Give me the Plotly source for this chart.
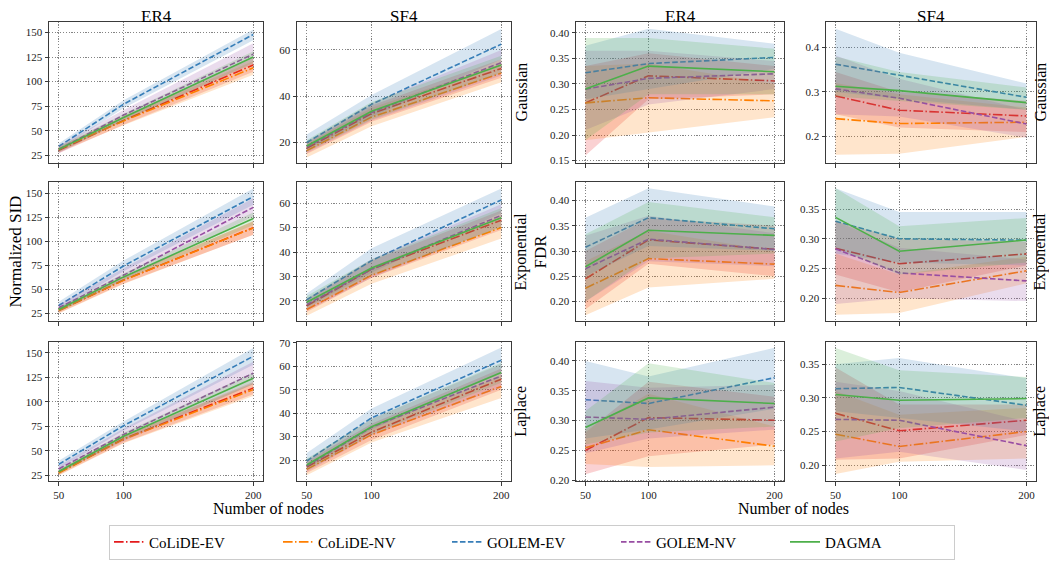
import plotly.graph_objects as go

# ---------------- data ----------------
X_NODES = [50, 100, 200]
METHODS = ["CoLiDE-EV", "CoLiDE-NV", "GOLEM-EV", "GOLEM-NV", "DAGMA"]
COL_TITLES = ["ER4", "SF4", "ER4", "SF4"]
ROW_LABELS = ["Gaussian", "Exponential", "Laplace"]

# method -> (mean, lower, upper)
SID_ER4_GAUSSIAN = {
    "CoLiDE-EV": ([30, 60.5, 117], [27, 56, 110], [33, 65, 124]),
    "CoLiDE-NV": ([31, 60, 114], [28, 55.5, 107], [34, 64.5, 121]),
    "GOLEM-EV": ([34, 77, 148], [31, 73, 142], [37, 81, 153]),
    "GOLEM-NV": ([31, 66, 128], [27, 61, 118], [35, 71, 139]),
    "DAGMA": ([31, 63.5, 125], [28, 60, 119], [34, 67, 131]),
}
SID_SF4_GAUSSIAN = {
    "CoLiDE-EV": ([17.5, 32.5, 52], [15, 29, 48], [20, 36, 56]),
    "CoLiDE-NV": ([16.5, 31, 50], [13.5, 27, 46], [19.5, 35, 54]),
    "GOLEM-EV": ([20, 36.5, 62.5], [17, 31, 56], [23.5, 40.5, 69]),
    "GOLEM-NV": ([18, 33, 54.5], [15.5, 29.5, 49], [20.5, 37, 60]),
    "DAGMA": ([18.5, 33.5, 53.5], [16, 30, 50], [21, 37.5, 57.5]),
}
FDR_ER4_GAUSSIAN = {
    "CoLiDE-EV": ([0.263, 0.316, 0.306], [0.16, 0.27, 0.28], [0.335, 0.36, 0.335]),
    "CoLiDE-NV": ([0.263, 0.273, 0.267], [0.19, 0.205, 0.235], [0.335, 0.34, 0.30]),
    "GOLEM-EV": ([0.322, 0.340, 0.352], [0.27, 0.29, 0.33], [0.375, 0.408, 0.379]),
    "GOLEM-NV": ([0.29, 0.311, 0.32], [0.21, 0.26, 0.29], [0.365, 0.365, 0.345]),
    "DAGMA": ([0.29, 0.335, 0.324], [0.19, 0.28, 0.28], [0.39, 0.39, 0.369]),
}
FDR_SF4_GAUSSIAN = {
    "CoLiDE-EV": ([0.291, 0.259, 0.246], [0.25, 0.22, 0.21], [0.345, 0.30, 0.28]),
    "CoLiDE-NV": ([0.24, 0.229, 0.232], [0.159, 0.161, 0.199], [0.32, 0.295, 0.265]),
    "GOLEM-EV": ([0.3625, 0.3375, 0.288], [0.30, 0.285, 0.26], [0.442, 0.388, 0.319]),
    "GOLEM-NV": ([0.307, 0.286, 0.228], [0.25, 0.245, 0.197], [0.382, 0.33, 0.26]),
    "DAGMA": ([0.313, 0.303, 0.276], [0.29, 0.28, 0.26], [0.38, 0.345, 0.31]),
}
SID_ER4_EXPONENTIAL = {
    "CoLiDE-EV": ([28, 59.7, 114.2], [25.5, 56, 107], [30.5, 63.5, 121]),
    "CoLiDE-NV": ([28, 59.5, 114], [25, 55.5, 107], [31, 63.5, 121]),
    "GOLEM-EV": ([33.2, 74.4, 146.6], [29, 69, 138], [37, 80, 155]),
    "GOLEM-NV": ([30.8, 64.8, 135.4], [27, 60, 126], [34, 72, 145]),
    "DAGMA": ([29, 63, 123.8], [26.5, 59.5, 117], [31.5, 66.5, 130]),
}
SID_SF4_EXPONENTIAL = {
    "CoLiDE-EV": ([18, 33, 53], [15.5, 29.5, 49], [20.5, 36.5, 57]),
    "CoLiDE-NV": ([16.5, 30.5, 50], [14, 27, 45.5], [19, 34, 54.5]),
    "GOLEM-EV": ([20.5, 36.5, 61.3], [17.5, 31.5, 56], [23, 41.5, 66]),
    "GOLEM-NV": ([18.5, 33, 55], [16, 29.5, 50.5], [21, 37, 59.5]),
    "DAGMA": ([19.5, 33.5, 54], [17, 30.5, 50], [22, 37, 58]),
}
FDR_ER4_EXPONENTIAL = {
    "CoLiDE-EV": ([0.245, 0.322, 0.3035], [0.185, 0.275, 0.25], [0.30, 0.365, 0.35]),
    "CoLiDE-NV": ([0.2265, 0.285, 0.274], [0.173, 0.228, 0.245], [0.28, 0.34, 0.30]),
    "GOLEM-EV": ([0.3075, 0.366, 0.344], [0.25, 0.31, 0.30], [0.366, 0.424, 0.388]),
    "GOLEM-NV": ([0.265, 0.3235, 0.303], [0.20, 0.28, 0.27], [0.33, 0.37, 0.335]),
    "DAGMA": ([0.269, 0.341, 0.331], [0.20, 0.285, 0.295], [0.333, 0.397, 0.367]),
}
FDR_SF4_EXPONENTIAL = {
    "CoLiDE-EV": ([0.284, 0.258, 0.2745], [0.24, 0.21, 0.255], [0.33, 0.30, 0.295]),
    "CoLiDE-NV": ([0.2215, 0.2094, 0.246], [0.172, 0.175, 0.225], [0.275, 0.24, 0.27]),
    "GOLEM-EV": ([0.3296, 0.300, 0.2976], [0.275, 0.26, 0.255], [0.385, 0.345, 0.345]),
    "GOLEM-NV": ([0.283, 0.2425, 0.229], [0.19, 0.20, 0.195], [0.33, 0.285, 0.265]),
    "DAGMA": ([0.336, 0.279, 0.298], [0.285, 0.24, 0.26], [0.385, 0.321, 0.335]),
}
SID_ER4_LAPLACE = {
    "CoLiDE-EV": ([28, 62.4, 114.2], [25.5, 58.5, 108], [30.5, 66, 120.5]),
    "CoLiDE-NV": ([27.5, 62, 112.6], [25, 58, 106], [30, 66, 119]),
    "GOLEM-EV": ([36.4, 75.8, 146.7], [32, 71, 138], [40, 80, 155]),
    "GOLEM-NV": ([31.7, 66.8, 129.3], [28, 60, 118], [35, 73, 141]),
    "DAGMA": ([29, 65, 124.3], [26.5, 61.5, 118], [31.5, 68.5, 130]),
}
SID_SF4_LAPLACE = {
    "CoLiDE-EV": ([17, 31.9, 54.5], [14.5, 28.5, 50], [19.5, 35.5, 59]),
    "CoLiDE-NV": ([16, 30.8, 51.4], [13.5, 27.5, 46.5], [18.5, 34, 56]),
    "GOLEM-EV": ([19.6, 38, 62.6], [16.5, 33, 57], [23, 42, 68]),
    "GOLEM-NV": ([17.5, 34, 55.9], [15, 30.5, 51], [20, 37.5, 61]),
    "DAGMA": ([17.9, 34.2, 57.3], [15.5, 31, 53], [20.5, 37.5, 61.5]),
}
FDR_ER4_LAPLACE = {
    "CoLiDE-EV": ([0.25, 0.305, 0.3006], [0.21, 0.24, 0.26], [0.28, 0.365, 0.34]),
    "CoLiDE-NV": ([0.2544, 0.2846, 0.257], [0.227, 0.222, 0.225], [0.285, 0.345, 0.29]),
    "GOLEM-EV": ([0.335, 0.3286, 0.372], [0.27, 0.285, 0.32], [0.40, 0.374, 0.422]),
    "GOLEM-NV": ([0.306, 0.302, 0.3225], [0.245, 0.27, 0.285], [0.3665, 0.355, 0.36]),
    "DAGMA": ([0.2885, 0.338, 0.3286], [0.26, 0.28, 0.29], [0.316, 0.396, 0.363]),
}
FDR_SF4_LAPLACE = {
    "CoLiDE-EV": ([0.277, 0.2511, 0.2667], [0.208, 0.21, 0.245], [0.345, 0.29, 0.29]),
    "CoLiDE-NV": ([0.246, 0.2278, 0.25], [0.187, 0.205, 0.21], [0.31, 0.275, 0.285]),
    "GOLEM-EV": ([0.3135, 0.3154, 0.289], [0.28, 0.27, 0.25], [0.35, 0.359, 0.329]),
    "GOLEM-NV": ([0.268, 0.2667, 0.229], [0.21, 0.22, 0.193], [0.324, 0.31, 0.265]),
    "DAGMA": ([0.305, 0.2964, 0.2989], [0.235, 0.255, 0.27], [0.374, 0.341, 0.331]),
}

PANELS = [
    [SID_ER4_GAUSSIAN, SID_SF4_GAUSSIAN, FDR_ER4_GAUSSIAN, FDR_SF4_GAUSSIAN],
    [SID_ER4_EXPONENTIAL, SID_SF4_EXPONENTIAL, FDR_ER4_EXPONENTIAL, FDR_SF4_EXPONENTIAL],
    [SID_ER4_LAPLACE, SID_SF4_LAPLACE, FDR_ER4_LAPLACE, FDR_SF4_LAPLACE],
]

# ---------------- styling ----------------
W, H = 1049, 562
COL_PX = [(49, 263), (297, 511), (576, 784), (826, 1036)]
ROW_PX = [(17, 161), (180, 322), (343, 485)]

Y_RANGES = [
    [(17, 161), (11.1, 72.2), (0.145, 0.422), (0.140, 0.458)],
    [(16.8, 162), (11.7, 68.7), (0.161, 0.437), (0.161, 0.396)],
    [(19, 161.3), (10.9, 70.4), (0.198, 0.432), (0.176, 0.383)],
]
Y_TICKS = [
    [(25, 25, "d"), (20, 20, "d"), (0.15, 0.05, ".2f"), (0.2, 0.1, ".1f")],
    [(25, 25, "d"), (20, 10, "d"), (0.20, 0.05, ".2f"), (0.20, 0.05, ".2f")],
    [(25, 25, "d"), (20, 10, "d"), (0.20, 0.05, ".2f"), (0.20, 0.05, ".2f")],
]

COLORS = {
    "CoLiDE-EV": (228, 26, 28),
    "CoLiDE-NV": (255, 127, 0),
    "GOLEM-EV": (55, 126, 184),
    "GOLEM-NV": (152, 78, 163),
    "DAGMA": (77, 175, 74),
}
DASHDOT = "9.6px,2.4px,1.5px,2.4px"
DASHED = "5.55px,2.4px"
DASHES = {
    "CoLiDE-EV": DASHDOT,
    "CoLiDE-NV": DASHDOT,
    "GOLEM-EV": DASHED,
    "GOLEM-NV": DASHED,
    "DAGMA": "solid",
}
FONT = "Liberation Serif, Times New Roman, serif"


def rgb(c, a=None):
    if a is None:
        return "rgb(%d,%d,%d)" % c
    return "rgba(%d,%d,%d,%.2f)" % (c + (a,))


def px_x(p):
    return p / W


def px_y(p):
    return 1 - p / H


fig = go.Figure()
layout_axes = {}

for r in range(3):
    for c in range(4):
        k = r * 4 + c + 1
        xa = "x" if k == 1 else "x%d" % k
        ya = "y" if k == 1 else "y%d" % k
        data = PANELS[r][c]
        for m in METHODS:
            mean, lo, hi = data[m]
            col = COLORS[m]
            fig.add_trace(go.Scatter(x=X_NODES, y=lo, mode="lines", line=dict(width=0),
                                     showlegend=False, hoverinfo="skip", xaxis=xa, yaxis=ya))
            fig.add_trace(go.Scatter(x=X_NODES, y=hi, mode="lines", line=dict(width=0),
                                     fill="tonexty", fillcolor=rgb(col, 0.2),
                                     showlegend=False, hoverinfo="skip", xaxis=xa, yaxis=ya))
            fig.add_trace(go.Scatter(x=X_NODES, y=mean, mode="lines", name=m, legendgroup=m,
                                     showlegend=(k == 1),
                                     line=dict(color=rgb(col), width=1.6, dash=DASHES[m]),
                                     xaxis=xa, yaxis=ya))
        common = dict(
            showgrid=True, gridcolor="rgba(110,110,110,0.85)", gridwidth=0.8, griddash="1.2px,1.6px",
            zeroline=False, showline=True, mirror=True, linecolor="#3a3a3a", linewidth=1,
            ticks="outside", ticklen=3.5, tickwidth=0.8, tickcolor="#3a3a3a",
            tickfont=dict(family=FONT, size=11, color="#222"),
        )
        x0, x1 = COL_PX[c]
        y0, y1 = ROW_PX[r]
        layout_axes["xaxis" if k == 1 else "xaxis%d" % k] = dict(
            common, domain=[px_x(x0), px_x(x1)], range=[42.5, 207.5],
            tickvals=X_NODES, showticklabels=(r == 2), anchor=ya)
        t0, dt, fmt = Y_TICKS[r][c]
        layout_axes["yaxis" if k == 1 else "yaxis%d" % k] = dict(
            common, domain=[px_y(y1), px_y(y0)], range=list(Y_RANGES[r][c]),
            tick0=t0, dtick=dt, tickformat=fmt, anchor=xa)

annotations = []
for c, t in enumerate(COL_TITLES):
    x0, x1 = COL_PX[c]
    annotations.append(dict(text=t, x=px_x((x0 + x1) / 2), y=px_y(12), xref="paper", yref="paper",
                            showarrow=False, font=dict(family=FONT, size=17, color="black"),
                            xanchor="center", yanchor="middle"))
for r, t in enumerate(ROW_LABELS):
    y0, y1 = ROW_PX[r]
    for xp in (521, 1040):
        annotations.append(dict(text=t, x=px_x(xp), y=px_y((y0 + y1) / 2), xref="paper", yref="paper",
                                showarrow=False, textangle=-90,
                                font=dict(family=FONT, size=16, color="black"),
                                xanchor="center", yanchor="middle"))
annotations.append(dict(text="Normalized SID", x=px_x(16), y=px_y(251), xref="paper", yref="paper",
                        showarrow=False, textangle=-90, font=dict(family=FONT, size=17, color="black"),
                        xanchor="center", yanchor="middle"))
annotations.append(dict(text="FDR", x=px_x(541), y=px_y(251), xref="paper", yref="paper",
                        showarrow=False, textangle=-90, font=dict(family=FONT, size=17, color="black"),
                        xanchor="center", yanchor="middle"))
for xc in (268, 793):
    annotations.append(dict(text="Number of nodes", x=px_x(xc), y=px_y(513), xref="paper", yref="paper",
                            showarrow=False, font=dict(family=FONT, size=16, color="black"),
                            xanchor="center", yanchor="middle"))

fig.update_layout(
    width=W, height=H,
    margin=dict(l=0, r=0, t=0, b=0),
    paper_bgcolor="white", plot_bgcolor="white",
    font=dict(family=FONT, color="black"),
    annotations=annotations,
    showlegend=True,
    legend=dict(orientation="h", x=px_x(532), xanchor="center", y=px_y(529), yanchor="top",
                bordercolor="#cccccc", borderwidth=1, bgcolor="white",
                font=dict(family=FONT, size=15, color="black"),
                entrywidth=124, entrywidthmode="pixels", tracegroupgap=0),
    **layout_axes,
)

fig.write_html("out.html", config={"displayModeBar": False},
               post_script="document.body.style.margin='0';document.body.style.overflow='hidden';")
